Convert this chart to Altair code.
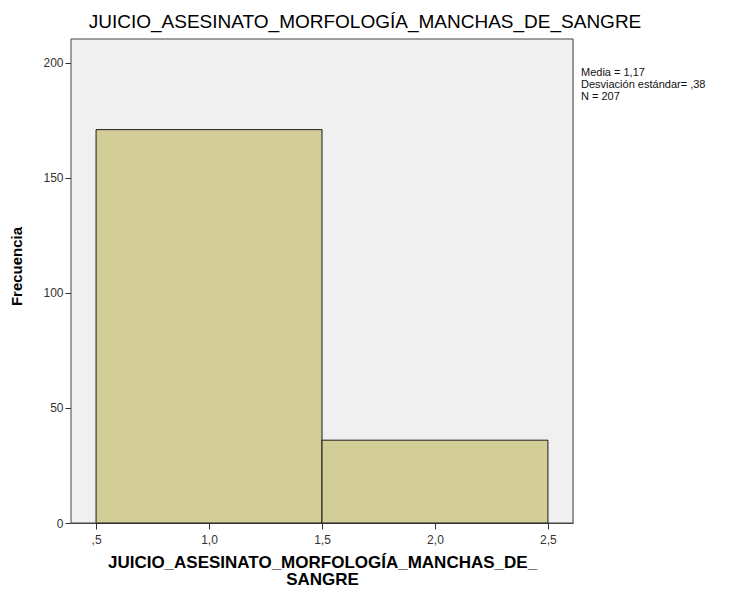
import altair as alt
import pandas as pd

bin_start = [0.5, 1.5]
bin_end = [1.5, 2.5]
counts = [171, 36]
x_ticks = [0.5, 1.0, 1.5, 2.0, 2.5]
y_ticks = [0, 50, 100, 150, 200]
stats_text = ["Media = 1,17", "Desviación estándar= ,38", "N = 207"]

df = pd.DataFrame({"start": bin_start, "end": bin_end, "count": counts})

FONT = "Liberation Sans"

bg = alt.Chart(pd.DataFrame({"a": [0]})).mark_rect(fill="#f0f0f0", stroke="#444", strokeWidth=1).encode(
    x=alt.value(0), x2=alt.value(502), y=alt.value(0), y2=alt.value(484)
)

bars = alt.Chart(df).mark_rect(fill="#d3ce97", stroke="#1a1a1a", strokeWidth=1).encode(
    x=alt.X("start:Q",
            scale=alt.Scale(domain=[0.389, 2.611], nice=False, zero=False),
            axis=alt.Axis(values=x_ticks, grid=False,
                          labelExpr="datum.value == 0.5 ? ',5' : replace(format(datum.value, '.1f'), '.', ',')",
                          title=["JUICIO_ASESINATO_MORFOLOGÍA_MANCHAS_DE_", "SANGRE"],
                          titleFontSize=17, titleFontWeight="bold", titleColor="#000",
                          titlePadding=9, titleLineHeight=17,
                          labelFontSize=12, labelColor="#333", labelPadding=5,
                          tickSize=6, tickColor="#333", domainColor="#444")),
    x2="end:Q",
    y=alt.Y("count:Q",
            scale=alt.Scale(domain=[0, 210.4], nice=False),
            axis=alt.Axis(values=y_ticks, grid=False, title="Frecuencia",
                          titleFontSize=15, titleFontWeight="bold", titleColor="#000",
                          titlePadding=18, titleY=227,
                          labelFontSize=12, labelColor="#333", labelPadding=2,
                          tickSize=6, tickColor="#333", domainColor="#444")),
    y2=alt.datum(0),
)

note = alt.Chart(pd.DataFrame({"t": [stats_text]})).mark_text(
    align="left", baseline="top", fontSize=11, font=FONT, color="#111", lineHeight=12
).encode(x=alt.value(510), y=alt.value(28), text="t")

chart = alt.layer(bg, bars, note).properties(
    width=502, height=484,
    autosize=alt.AutoSizeParams(type="none"),
    padding={"left": 63, "top": 31, "right": 156, "bottom": 65},
    title=alt.TitleParams("JUICIO_ASESINATO_MORFOLOGÍA_MANCHAS_DE_SANGRE",
                          fontSize=19, fontWeight="normal", font=FONT, color="#000",
                          anchor="middle", dx=43, offset=7),
).configure_view(stroke=None).configure(
    font=FONT, background="white"
).configure_axis(labelFont=FONT, titleFont=FONT)

chart.save("out.html", embed_options={"renderer": "svg", "actions": False})
